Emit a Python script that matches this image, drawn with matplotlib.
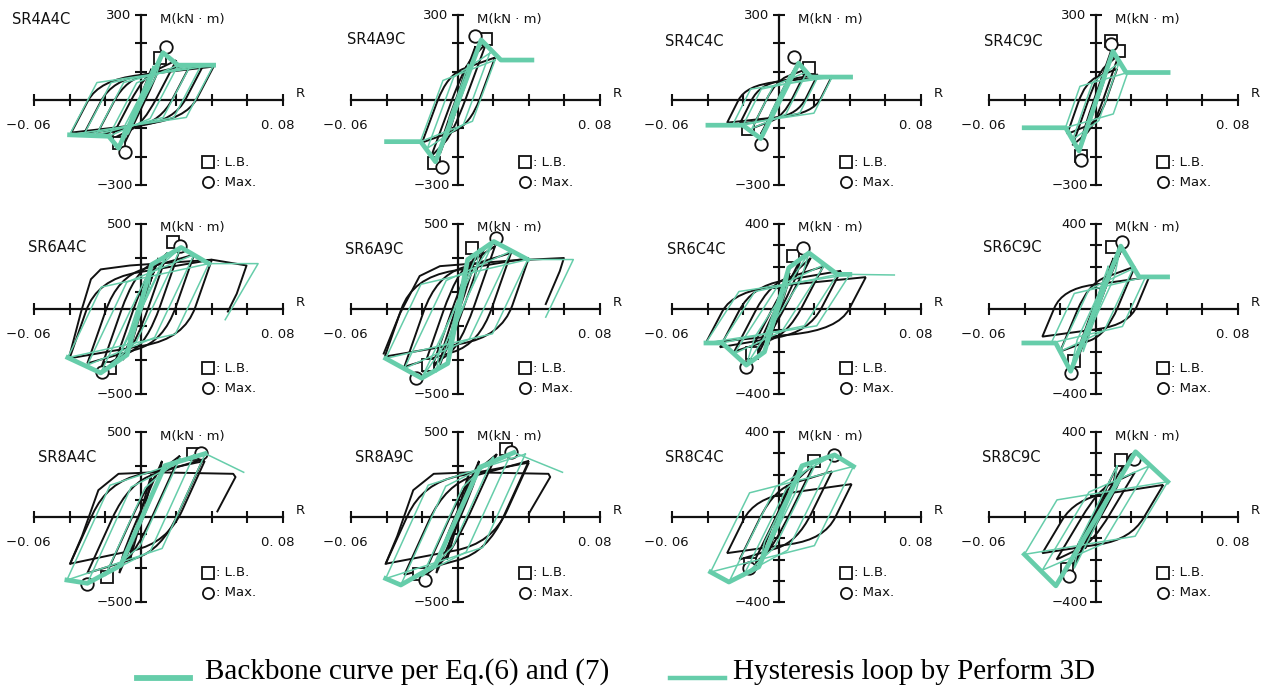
import numpy as np
import matplotlib
matplotlib.use("Agg")
import matplotlib.pyplot as plt
from matplotlib.path import Path
from matplotlib.patches import PathPatch
from matplotlib.lines import Line2D
from matplotlib.transforms import offset_copy

GREEN = "#66CDAA"

# ---------------------------------------------------------------- data
PANEL_NAMES = ["SR4A4C", "SR4A9C", "SR4C4C", "SR4C9C",
               "SR6A4C", "SR6A9C", "SR6C4C", "SR6C9C",
               "SR8A4C", "SR8A9C", "SR8C4C", "SR8C9C"]
M_LIMITS = [300, 300, 300, 300, 500, 500, 400, 400, 500, 500, 400, 400]
R_TICKS = [-0.06, -0.04, -0.02, 0.02, 0.04, 0.06, 0.08]

# backbone curve per Eq.(6) and (7): rotation R and moment M (kN*m)
BACKBONE_R = [
    [-0.040, -0.018, -0.0125, 0.0125, 0.021, 0.041],
    [-0.040, -0.0208, -0.0125, 0.0132, 0.0243, 0.0417],
    [-0.0398, -0.0202, -0.0101, 0.0112, 0.018, 0.0404],
    [-0.0402, -0.0169, -0.0094, 0.0097, 0.0171, 0.0407],
    [-0.041, -0.0225, -0.0077, 0.0061, 0.0227, 0.0383],
    [-0.0405, -0.0203, -0.0056, 0.0056, 0.0203, 0.0394],
    [-0.0409, -0.0318, -0.0182, -0.008, 0.0057, 0.017, 0.033, 0.040],
    [-0.0404, -0.0225, -0.0141, 0.0141, 0.0244, 0.0404],
    [-0.0415, -0.030, -0.0113, 0.0136, 0.0363],
    [-0.0405, -0.032, -0.0127, 0.0123, 0.0316],
    [-0.0383, -0.028, -0.0112, 0.0131, 0.0314, 0.042],
    [-0.0401, -0.0224, 0.0224, 0.0405],
]
BACKBONE_M = [
    [-123, -128, -170, 167, 123, 123],
    [-147, -147, -218, 212, 141, 141],
    [-89, -89, -136, 130, 81, 81],
    [-98, -98, -180, 172, 97, 97],
    [-286, -376, -270, 261, 362, 267],
    [-291, -407, -320, 291, 397, 291],
    [-160, -160, -264, -202, 194, 264, 163, 163],
    [-160, -160, -293, 296, 151, 151],
    [-371, -390, -285, 302, 373],
    [-362, -400, -285, 292, 379],
    [-259, -306, -235, 241, 292, 238],
    [-176, -324, 307, 166],
]

# Perform 3D loops: (R-, M-, R+, M+) of each cycle
GREEN_CYCLES = [
    [(-0.007, -120, 0.007, 118), (-0.0125, -170, 0.0125, 167), (-0.018, -128, 0.021, 123),
     (-0.025, -123, 0.028, 123), (-0.032, -123, 0.034, 123), (-0.040, -123, 0.041, 123)],
    [(-0.006, -130, 0.006, 125), (-0.0125, -215, 0.013, 210), (-0.017, -170, 0.018, 165),
     (-0.021, -147, 0.021, 141)],
    [(-0.006, -90, 0.006, 85), (-0.010, -130, 0.011, 125), (-0.015, -100, 0.016, 100),
     (-0.020, -89, 0.022, 81), (-0.026, -89, 0.030, 81)],
    [(-0.005, -100, 0.005, 95), (-0.009, -180, 0.0097, 172), (-0.013, -140, 0.013, 130),
     (-0.017, -98, 0.018, 97)],
    [(-0.0077, -270, 0.0061, 261), (-0.015, -340, 0.015, 330), (-0.0225, -376, 0.0227, 362),
     (-0.030, -330, 0.030, 320), (-0.041, -286, 0.0383, 267)],
    [(-0.0056, -320, 0.0056, 291), (-0.012, -370, 0.012, 350), (-0.0203, -407, 0.0203, 397),
     (-0.030, -350, 0.030, 340), (-0.0405, -291, 0.0394, 291)],
    [(-0.008, -202, 0.0057, 194), (-0.0182, -264, 0.017, 264), (-0.025, -210, 0.026, 210),
     (-0.032, -160, 0.033, 163), (-0.041, -160, 0.040, 163)],
    [(-0.007, -200, 0.007, 200), (-0.0141, -293, 0.0141, 296), (-0.020, -200, 0.021, 190),
     (-0.025, -160, 0.028, 151)],
    [(-0.0113, -285, 0.0136, 302), (-0.020, -345, 0.022, 345), (-0.030, -390, 0.030, 365),
     (-0.0415, -371, 0.0363, 373)],
    [(-0.0127, -285, 0.0123, 292), (-0.020, -350, 0.020, 350), (-0.032, -400, 0.030, 375),
     (-0.0405, -362, 0.038, 370)],
    [(-0.0112, -235, 0.0131, 241), (-0.020, -280, 0.022, 270), (-0.028, -306, 0.0314, 292),
     (-0.0383, -259, 0.042, 238)],
    [(-0.012, -240, 0.012, 240), (-0.0224, -324, 0.0224, 307), (-0.030, -250, 0.030, 240),
     (-0.0401, -176, 0.0405, 166)],
]
# unloading stiffness of the loops (kN*m/rad)
GREEN_K = [12000, 17000, 12500, 18000, 22000, 22000, 13000, 18000, 23000, 23000, 17000, 14000]
# last half cycles of the Perform 3D loops
GREEN_TAIL_R = {4: [0.0383, 0.066, 0.0475], 5: [0.0394, 0.065, 0.0495], 6: [0.040, 0.065],
                8: [0.0363, 0.0579], 9: [0.0316, 0.0589]}
GREEN_TAIL_M = {4: [267, 267, -63], 5: [291, 291, -48], 6: [163, 160],
                8: [373, 263], 9: [379, 263]}

# test loops: (R-, M-, R+, M+) of each cycle
BLACK_CYCLES = [
    [(-0.006, -110, 0.006, 110), (-0.010, -165, 0.012, 160), (-0.017, -140, 0.020, 140),
     (-0.025, -125, 0.028, 125), (-0.032, -120, 0.035, 120), (-0.039, -115, 0.041, 118)],
    [(-0.005, -120, 0.005, 120), (-0.010, -190, 0.010, 190), (-0.015, -200, 0.016, 200),
     (-0.020, -150, 0.021, 150)],
    [(-0.005, -70, 0.005, 70), (-0.010, -120, 0.010, 120), (-0.015, -100, 0.016, 110),
     (-0.022, -85, 0.022, 90), (-0.029, -80, 0.030, 85)],
    [(-0.005, -100, 0.005, 100), (-0.009, -180, 0.009, 180), (-0.013, -160, 0.013, 160),
     (-0.016, -120, 0.012, 110)],
    [(-0.005, -200, 0.005, 200), (-0.010, -300, 0.010, 300), (-0.015, -330, 0.015, 330),
     (-0.022, -340, 0.022, 350), (-0.030, -320, 0.030, 320), (-0.040, -290, 0.040, 290)],
    [(-0.005, -250, 0.005, 250), (-0.010, -330, 0.010, 330), (-0.015, -360, 0.015, 360),
     (-0.020, -370, 0.021, 370), (-0.030, -340, 0.030, 330), (-0.041, -280, 0.040, 300)],
    [(-0.006, -170, 0.006, 170), (-0.012, -220, 0.012, 230), (-0.018, -230, 0.018, 240),
     (-0.025, -200, 0.025, 200), (-0.033, -180, 0.035, 180), (-0.041, -160, 0.049, 150)],
    [(-0.005, -150, 0.005, 150), (-0.010, -230, 0.010, 240), (-0.014, -280, 0.015, 290),
     (-0.020, -200, 0.022, 200), (-0.030, -130, 0.030, 150)],
    [(-0.006, -250, 0.006, 250), (-0.012, -330, 0.012, 330), (-0.020, -350, 0.022, 360),
     (-0.030, -330, 0.035, 340), (-0.0397, -275, 0.036, 330)],
    [(-0.006, -250, 0.006, 250), (-0.012, -330, 0.012, 330), (-0.020, -360, 0.022, 370),
     (-0.030, -340, 0.040, 330), (-0.0405, -275, 0.040, 320)],
    [(-0.005, -150, 0.005, 150), (-0.010, -210, 0.010, 220), (-0.015, -230, 0.020, 250),
     (-0.022, -200, 0.030, 215), (-0.029, -170, 0.041, 155)],
    [(-0.006, -150, 0.006, 150), (-0.012, -230, 0.012, 240), (-0.016, -270, 0.016, 250),
     (-0.022, -200, 0.022, 210), (-0.030, -170, 0.038, 151)],
]
BLACK_K = [12000, 17000, 12500, 18000, 30000, 30000, 16000, 20000, 23000, 23000, 17000, 14000]
# last half cycles of the tests
BLACK_TAIL_R = {4: [-0.040, -0.0335, -0.028, -0.0225, -0.006, 0.040, 0.0595, 0.054, 0.049],
                5: [-0.0416, -0.0326, -0.0214, -0.010, 0.030, 0.0597, 0.0574, 0.0495],
                8: [-0.0397, -0.033, -0.0238, -0.0125, 0.008, 0.052, 0.0533, 0.0431],
                9: [-0.0405, -0.034, -0.025, -0.0135, 0.008, 0.051, 0.052, 0.040]}
BLACK_TAIL_M = {4: [-273, -15, 175, 233, 256, 290, 256, 90, -15],
                5: [-262, -29, 194, 252, 285, 300, 223, 29],
                8: [-275, -112, 158, 254, 263, 254, 235, 33],
                9: [-275, -112, 158, 254, 263, 254, 235, 20]}

# local buckling (L.B.) and maximum (Max.) points
LB_POINTS = [
    [(0.011, 150), (-0.012, -150)], [(0.016, 214), (-0.0134, -224)],
    [(0.0169, 113), (-0.0173, -101)], [(0.0085, 208), (0.013, 172), (-0.0083, -196)],
    [(0.018, 395), (-0.017, -345)], [(0.0079, 359), (-0.0169, -330)],
    [(0.008, 248), (-0.0148, -209)], [(0.0094, 291), (-0.0122, -246)],
    [(0.0295, 369), (-0.0188, -352)], [(0.027, 398), (-0.0218, -333)],
    [(0.0196, 265), (-0.0159, -219)], [(0.014, 268), (-0.0159, -243)],
]
MAX_POINTS = [
    [(0.0144, 188), (-0.0086, -182)], [(0.0096, 226), (-0.0088, -235)],
    [(0.0085, 152), (-0.0101, -157)], [(0.0085, 198), (-0.0083, -210)],
    [(0.022, 370), (-0.022, -372)], [(0.0214, 417), (-0.0236, -407)],
    [(0.0136, 287), (-0.0182, -271)], [(0.015, 314), (-0.0141, -300)],
    [(0.034, 378), (-0.030, -392)], [(0.030, 385), (-0.0184, -371)],
    [(0.031, 292), (-0.0168, -240)], [(0.0215, 271), (-0.0149, -277)],
]

# ---------------------------------------------------------------- layout (pixels)
FIG_W, FIG_H = 1270, 690
COL_LEFT = [34, 351, 672, 989]
AXIS_WIDTH = 249
ROW_ZERO = [100, 309, 517]
HALF_HEIGHT = 85
TITLE_XY = [(12, 20), (347, 40), (665, 42), (984, 42),
            (28, 248), (345, 249), (667, 249), (983, 247),
            (38, 457), (355, 457), (665, 457), (982, 457)]
KEY_DY = [(62, 82), (59, 79), (56, 76)]

plt.rcParams["font.family"] = ["DejaVu Sans"]


def y_ticks(mlim):
    if mlim == 500:
        return [-500, -300, -100, 100, 300, 500]
    return [v for v in range(-mlim, mlim + 1, 100) if v != 0]


def loop_corners(rn, mn, rp, mp, k, frac):
    dm = frac * (mp - mn)
    dr = min(dm / k, 0.9 * (rp - rn))
    a = np.array([rp, mp])
    b = np.array([rp - dr, mp - dm])
    c = np.array([rn, mn])
    d = np.array([rn + dr, mn + dm])
    return a, b, c, d


def rounded_loop(a, b, c, d):
    p1 = a + 0.6 * (b - a)
    p2 = b + 0.35 * (c - b)
    p3 = c + 0.6 * (d - c)
    p4 = d + 0.35 * (a - d)
    verts = [a, p1, b, p2, c, p3, d, p4, a]
    codes = [Path.MOVETO, Path.LINETO, Path.CURVE3, Path.CURVE3, Path.LINETO,
             Path.LINETO, Path.CURVE3, Path.CURVE3, Path.LINETO]
    return Path(verts, codes)


fig = plt.figure(figsize=(FIG_W / 100, FIG_H / 100), dpi=100)

for i, name in enumerate(PANEL_NAMES):
    row, col = divmod(i, 4)
    xl, y0, mlim = COL_LEFT[col], ROW_ZERO[row], M_LIMITS[i]
    ax = fig.add_axes([xl / FIG_W, 1 - (y0 + HALF_HEIGHT) / FIG_H,
                       AXIS_WIDTH / FIG_W, 2 * HALF_HEIGHT / FIG_H])
    ax.set_xlim(-0.06, 0.08)
    ax.set_ylim(-mlim, mlim)
    ax.patch.set_alpha(0)
    for s in ("top", "right"):
        ax.spines[s].set_visible(False)
    for s in ("left", "bottom"):
        ax.spines[s].set_position(("data", 0))
        ax.spines[s].set_linewidth(1.6)
        ax.spines[s].set_color("#111111")
    ax.set_xticks(R_TICKS)
    ax.set_yticks(y_ticks(mlim))
    ax.tick_params(direction="inout", length=9, width=1.5, color="#111111",
                   labelbottom=False, labelleft=False)

    # test loops
    for rn, mn, rp, mp in BLACK_CYCLES[i]:
        corners = loop_corners(rn, mn, rp, mp, BLACK_K[i], 0.8)
        ax.add_patch(PathPatch(rounded_loop(*corners), fill=False, ec="#111111",
                               lw=1.4, clip_on=False, zorder=2))
    if i in BLACK_TAIL_R:
        ax.plot(BLACK_TAIL_R[i], BLACK_TAIL_M[i], color="#111111", lw=1.4,
                clip_on=False, zorder=2)

    # L.B. and Max. points
    lb_r, lb_m = zip(*LB_POINTS[i])
    mx_r, mx_m = zip(*MAX_POINTS[i])
    ax.plot(lb_r, lb_m, ls="none", marker="s", ms=8, mfc="white", mec="#111111",
            mew=1.3, clip_on=False, zorder=3)
    ax.plot(mx_r, mx_m, ls="none", marker="o", ms=9, mfc="white", mec="#111111",
            mew=1.3, clip_on=False, zorder=3)

    # Perform 3D loops
    for rn, mn, rp, mp in GREEN_CYCLES[i]:
        a, b, c, d = loop_corners(rn, mn, rp, mp, GREEN_K[i], 0.75)
        pts = np.array([a, b, c, d, a])
        ax.plot(pts[:, 0], pts[:, 1], color=GREEN, lw=1.1, clip_on=False, zorder=4)
    if i in GREEN_TAIL_R:
        ax.plot(GREEN_TAIL_R[i], GREEN_TAIL_M[i], color=GREEN, lw=1.1,
                clip_on=False, zorder=4)

    # backbone
    ax.plot(BACKBONE_R[i], BACKBONE_M[i], color=GREEN, lw=3.4, clip_on=False,
            solid_joinstyle="round", zorder=5)

    # axis annotations
    kw = dict(textcoords="offset pixels", fontsize=9.5, color="#111111")
    ax.annotate(str(mlim), (0, mlim), (-9, 0), ha="right", va="center", **kw)
    ax.annotate("\u2212" + str(mlim), (0, -mlim), (-8, 0), ha="right", va="center", **kw)
    ax.annotate("M(kN \u00b7 m)", (0, mlim), (19, -4), ha="left", va="center", **kw)
    ax.annotate("R", (0.08, 0), (17, 7), ha="center", va="center", **kw)
    ax.annotate("\u22120. 06", (-0.06, 0), (-6, -25), ha="center", va="center", **kw)
    ax.annotate("0. 08", (0.08, 0), (-5, -25), ha="center", va="center", **kw)

    dy1, dy2 = KEY_DY[row]
    for dy, marker, label in ((dy1, "s", ": L.B."), (dy2, "o", ": Max.")):
        trans = offset_copy(ax.transData, fig=fig, x=67, y=-dy, units="dots")
        ax.plot([0], [0], ls="none", marker=marker, ms=8, mfc="white",
                mec="#111111", mew=1.3, transform=trans, clip_on=False)
        ax.annotate(label, (0, 0), (75, -dy), ha="left", va="center", **kw)

    tx, ty = TITLE_XY[i]
    fig.text(tx / FIG_W, 1 - ty / FIG_H, name, ha="left", va="center",
             fontsize=10.5, color="#111111")

# bottom legend
ly = 1 - 678 / FIG_H
fig.add_artist(Line2D([137 / FIG_W, 190 / FIG_W], [ly, ly], color=GREEN, lw=4.2,
                      transform=fig.transFigure))
fig.add_artist(Line2D([670 / FIG_W, 725 / FIG_W], [ly, ly], color=GREEN, lw=3.2,
                      transform=fig.transFigure))
fig.text(205 / FIG_W, 1 - 679 / FIG_H, "Backbone curve per Eq.(6) and (7)", ha="left",
         va="baseline", family="Liberation Serif", fontsize=21)
fig.text(733 / FIG_W, 1 - 679 / FIG_H, "Hysteresis loop by Perform 3D", ha="left",
         va="baseline", family="Liberation Serif", fontsize=21)

fig.savefig("out.png", dpi=100)
